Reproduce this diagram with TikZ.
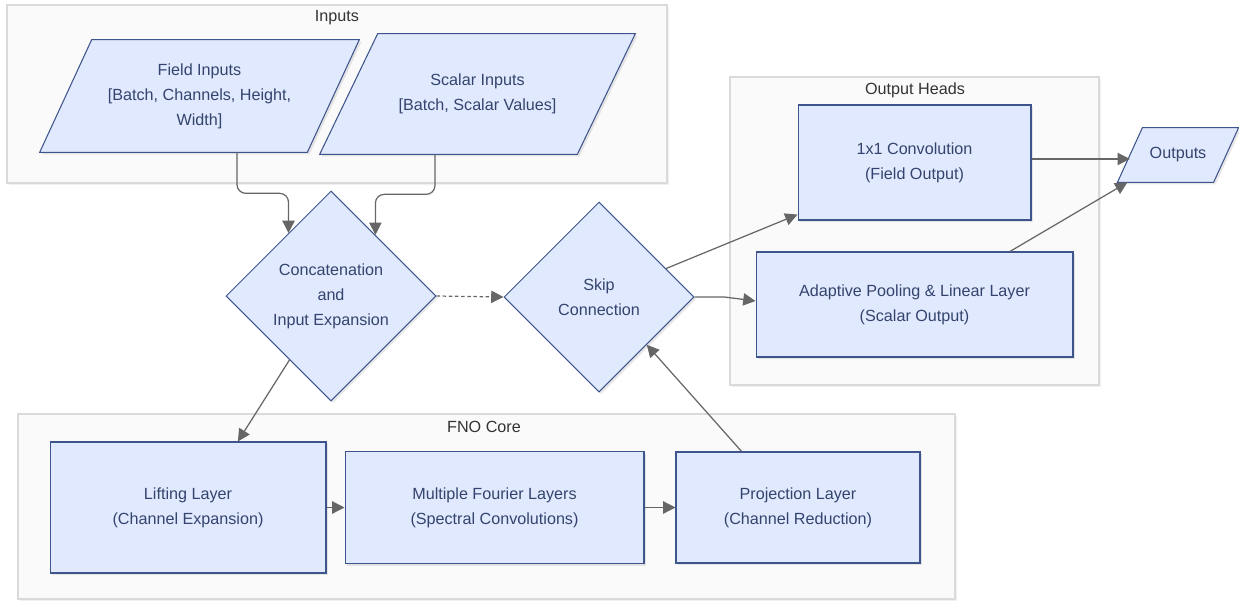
\documentclass[tikz,border=0pt]{standalone}
\usepackage{fontspec}
\setmainfont{Liberation Sans}
\usetikzlibrary{shapes.geometric, arrows.meta, positioning, calc, shadows, backgrounds}
\definecolor{nodeFill}{RGB}{224,233,253}
\definecolor{nodeLine}{RGB}{62,84,140}
\definecolor{nodeText}{RGB}{52,68,110}
\definecolor{groupFill}{RGB}{250,250,250}
\definecolor{groupLine}{RGB}{218,218,218}
\definecolor{linkGray}{RGB}{102,102,102}

\begin{document}
\begin{tikzpicture}[
  x=0.02cm, y=-0.02cm,
  font=\fontsize{9.2}{14.2}\selectfont,
  shade/.style={drop shadow={shadow xshift=1.2pt, shadow yshift=-1.2pt, opacity=0.18}},
  base/.style={draw=nodeLine, fill=nodeFill, text=nodeText, line width=0.6pt,
               align=center, inner sep=2pt, shade},
  procbox/.style={base, rectangle},
  decision/.style={base, diamond, aspect=1},
  iotext/.style={text=nodeText, align=center, inner sep=0pt},
  ioframe/.style={draw=nodeLine, fill=nodeFill, line width=0.6pt, shade},
  group/.style={draw=groupLine, fill=groupFill, line width=0.6pt,
                drop shadow={shadow xshift=1.2pt, shadow yshift=-1.2pt, opacity=0.12}},
  grouptitle/.style={text=black!80, inner sep=1pt},
  arrow/.style={-{Triangle[length=7pt, width=7pt]}, draw=linkGray, line width=0.7pt}
]
\useasboundingbox (0,0) rectangle (1239,602);

% Groups
\begin{scope}[on background layer]
  \draw[group] (7,5) rectangle (667,183);
  \draw[group] (730,77) rectangle (1099,385);
  \draw[group] (18,414) rectangle (955,599);
\end{scope}
\node[grouptitle] (inputsLbl) at (337,18) {Inputs};
\node[grouptitle] (headsLbl) at (915,90) {Output Heads};
\node[grouptitle] (coreLbl) at (484,427) {FNO Core};

% Inputs (text only, frames drawn below)
\node[iotext, minimum width=5.34cm, minimum height=2.24cm] (field) at (199.5,96)
  {Field Inputs\\{}[Batch, Channels, Height,\\Width]};
\node[iotext, minimum width=5.14cm, minimum height=2.4cm] (scalar) at (477.5,94)
  {Scalar Inputs\\{}[Batch, Scalar Values]};

% Decisions
\node[decision, minimum width=4.2cm, minimum height=4.2cm] (concat) at (331,296)
  {Concatenation\\and\\Input Expansion};
\node[decision, minimum width=3.8cm, minimum height=3.8cm] (skip) at (599,297)
  {Skip\\Connection};

% FNO core
\node[procbox, minimum width=5.52cm, minimum height=2.62cm] (lift) at (188,507.5)
  {Lifting Layer\\(Channel Expansion)};
\node[procbox, minimum width=5.98cm, minimum height=2.24cm, right=0.36cm of lift] (fourier)
  {Multiple Fourier Layers\\(Spectral Convolutions)};
\node[procbox, minimum width=4.88cm, minimum height=2.22cm, right=0.62cm of fourier] (proj)
  {Projection Layer\\(Channel Reduction)};

% Output heads
\node[procbox, minimum width=4.66cm, minimum height=2.3cm] (conv) at (914.5,162.5)
  {1x1 Convolution\\(Field Output)};
\node[procbox, minimum width=6.34cm, minimum height=2.1cm] (adapt) at (914.5,304.5)
  {Adaptive Pooling \& Linear Layer\\(Scalar Output)};
\node[iotext, minimum width=1.91cm, minimum height=1.08cm] (outs) at (1178,155) {Outputs};

% Parallelogram frames behind the io nodes
\begin{scope}[on background layer]
  \foreach \n/\s in {field/52, scalar/58, outs/25}
    \draw[ioframe] ($(\n.south west)-(\s/2,0)$) -- ($(\n.north west)+(\s/2,0)$)
      -- ($(\n.north east)+(\s/2,0)$) -- ($(\n.south east)-(\s/2,0)$) -- cycle;
\end{scope}

% Links
\draw[arrow, rounded corners=5pt]
  ($(field.south)+(37.5,0)$) -- ++(0,41) -| (concat.124);
\draw[arrow, rounded corners=5pt]
  ($(scalar.south)+(-42.5,0)$) -- ++(0,40) -| (concat.54);
\draw[arrow, dash pattern=on 2pt off 1.5pt] (concat.east) -- (skip.west);
\draw[arrow] (concat.237) -- ($(lift.north west)!0.68!(lift.north east)$);
\draw[arrow] (lift.east) -- (fourier.west);
\draw[arrow] (fourier.east) -- (proj.west);
\draw[arrow] ($(proj.north west)!0.27!(proj.north east)$) -- (skip.-45);
\draw[arrow] (skip.23) -- ([yshift=3.4pt]conv.south west);
\draw[arrow] (skip.east) -- ++(30,0) -- ([yshift=2pt]adapt.west);
\draw[arrow] ([yshift=2pt]conv.east) -- ([yshift=2pt]conv.east -| outs.west);
\draw[arrow] ($(adapt.north west)!0.8!(adapt.north east)$)
  -- ($(outs.south west)+(-2.5,0)$);

\end{tikzpicture}
\end{document}
